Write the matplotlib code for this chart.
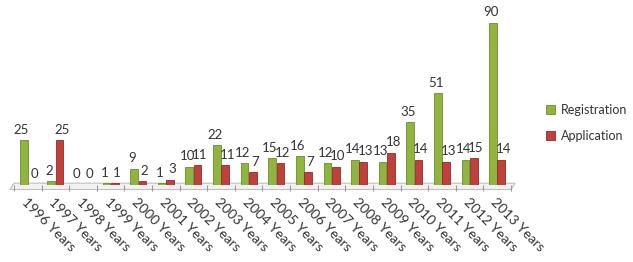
import matplotlib
matplotlib.use("Agg")
import matplotlib.pyplot as plt
import numpy as np
from matplotlib.patches import Polygon

years = ["1996", "1997", "1998", "1999", "2000", "2001", "2002", "2003", "2004",
         "2005", "2006", "2007", "2008", "2009", "2010", "2011", "2012", "2013"]
tick_labels = [f"{y} Years" for y in years]
registration = [25, 2, 0, 1, 9, 1, 10, 22, 12, 15, 16, 12, 14, 13, 35, 51, 14, 90]
application = [0, 25, 0, 1, 2, 3, 11, 11, 7, 12, 7, 10, 13, 18, 14, 13, 15, 14]

plt.rcParams["font.family"] = ["Lato", "DejaVu Sans"]

green = "#8fb43f"
green_edge = "#6d8c2a"
red = "#c0403d"
red_edge = "#8f2b29"
text_color = "#333333"

W, H = 633, 262
fig = plt.figure(figsize=(W / 100, H / 100), dpi=100)
left_px, right_px, base_px, top_px = 14, 511, 185, 5
ax = fig.add_axes([left_px / W, (H - base_px) / H, (right_px - left_px) / W, (base_px - top_px) / H])

x = np.arange(len(years))
bw = 0.28
off = 0.15
b1 = ax.bar(x - off, registration, width=bw, color=green, edgecolor=green_edge, linewidth=0.6, label="Registration", zorder=3)
b2 = ax.bar(x + off, application, width=bw, color=red, edgecolor=red_edge, linewidth=0.6, label="Application", zorder=3)

for xi, v in zip(x - off, registration):
    ax.text(xi - 0.08, v + 2.5, str(v), ha="center", va="bottom", fontsize=9.5, color=text_color)
for xi, v in zip(x + off, application):
    ax.text(xi + 0.08, v + 2.5, str(v), ha="center", va="bottom", fontsize=9.5, color=text_color)

ax.set_xlim(-0.5, len(years) - 0.5)
ax.set_ylim(0, 100)

# floor
floor = Polygon([(-0.65, -2.5), (len(years) - 0.5, -2.5), (len(years) - 0.35, 1.0), (-0.5, 1.0)],
                closed=True, facecolor="#f2f2f2", edgecolor="#bfbfbf", linewidth=0.8,
                clip_on=False, zorder=1)
ax.add_patch(floor)

for s in ax.spines.values():
    s.set_visible(False)
ax.set_yticks([])
ax.set_xticks(x)
ax.set_xticklabels(tick_labels, rotation=-45, ha="left", va="top", rotation_mode="anchor",
                   fontsize=10, color=text_color)
ax.tick_params(axis="x", length=0, pad=8)
ax.set_xticks(np.arange(-0.5, len(years) + 0.5, 1), minor=True)
ax.tick_params(axis="x", which="minor", length=4, color="#9a9a9a", width=0.8, pad=0)

leg = fig.legend(handles=[b1, b2], labels=["Registration", "Application"],
                 loc="center left", bbox_to_anchor=(546 / W, 1 - 123 / H), frameon=False,
                 borderpad=0, borderaxespad=0,
                 fontsize=9, handlelength=0.7, handleheight=0.7, handletextpad=0.5,
                 labelspacing=1.1, labelcolor=text_color)

fig.savefig("out.png", dpi=100)
